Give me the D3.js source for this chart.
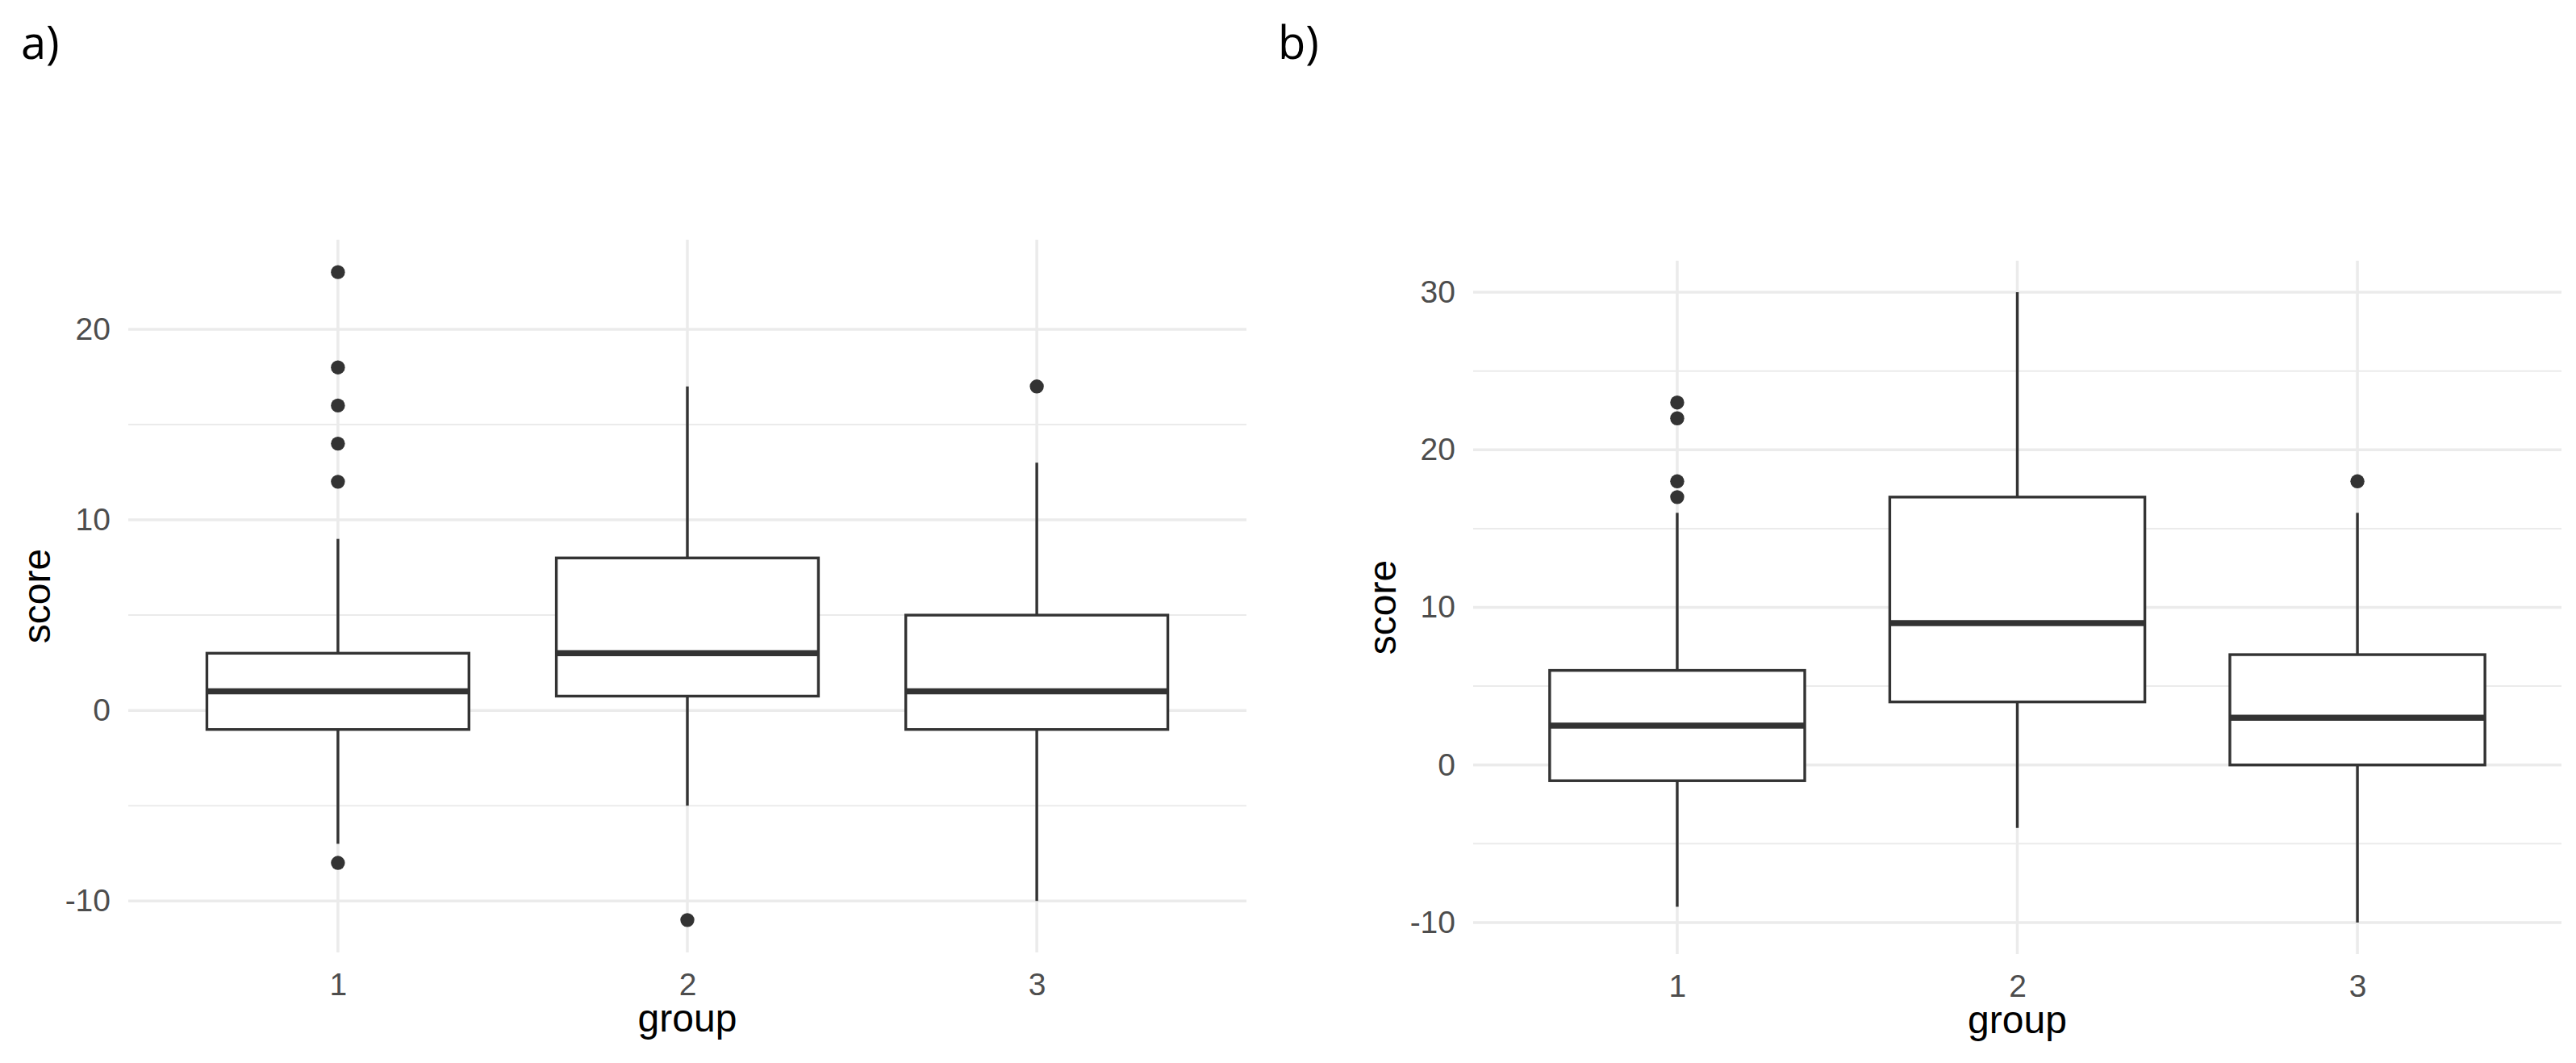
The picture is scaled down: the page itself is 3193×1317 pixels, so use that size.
<!DOCTYPE html>
<html>
<head>
<meta charset="utf-8">
<script src="https://cdn.jsdelivr.net/npm/d3@7"></script>
<style>
  html, body { margin: 0; padding: 0; background: #fff; }
  svg { display: block; font-family: Arial, 'Liberation Sans', sans-serif; }
</style>
</head>
<body>
<svg id="chart" width="3193" height="1317"></svg>
<script>
const groups = ['1', '2', '3'];

// panel a)
const aLow = [-7, -5, -10];
const aQ1 = [-1, 0.75, -1];
const aMedian = [1, 3, 1];
const aQ3 = [3, 8, 5];
const aHigh = [9, 17, 13];
const aOutliers = [[23, 18, 16, 14, 12, -8], [-11], [17]];
const aTicks = [-10, 0, 10, 20];
const aMinor = [-5, 5, 15];

// panel b)
const bLow = [-9, -4, -10];
const bQ1 = [-1, 4, 0];
const bMedian = [2.5, 9, 3];
const bQ3 = [6, 17, 7];
const bHigh = [16, 30, 16];
const bOutliers = [[23, 22, 18, 17], [], [18]];
const bTicks = [-10, 0, 10, 20, 30];
const bMinor = [-5, 5, 15, 25];

const GRID = '#ebebeb', INK = '#333333';

const svg = d3.select('#chart');
svg.append('rect').attr('width', 3193).attr('height', 1317).attr('fill', '#fff');

function drawPanel(cfg) {
  const g = svg.append('g');

  const x = d3.scalePoint().domain(groups).range([cfg.left, cfg.right]).padding(0.6);
  // ggplot-style 5% expansion of the data range
  const [lo, hi] = d3.extent([...cfg.low, ...cfg.high, ...cfg.outliers.flat()]);
  const pad = (hi - lo) * 0.05;
  const y = d3.scaleLinear().domain([lo - pad, hi + pad]).range([cfg.bottom, cfg.top]);
  const boxW = x.step() * 0.75;

  /* ── grid ── */
  g.append('g').selectAll('line').data(cfg.minor).join('line')
    .attr('x1', cfg.left).attr('x2', cfg.right)
    .attr('y1', d => y(d)).attr('y2', d => y(d))
    .attr('stroke', GRID).attr('stroke-width', 2);

  g.append('g').selectAll('line').data(cfg.ticks).join('line')
    .attr('x1', cfg.left).attr('x2', cfg.right)
    .attr('y1', d => y(d)).attr('y2', d => y(d))
    .attr('stroke', GRID).attr('stroke-width', 3.5);

  g.append('g').selectAll('line').data(groups).join('line')
    .attr('x1', d => x(d)).attr('x2', d => x(d))
    .attr('y1', cfg.top).attr('y2', cfg.bottom)
    .attr('stroke', GRID).attr('stroke-width', 3.5);

  /* ── axes (labels only) ── */
  g.append('g')
    .attr('transform', `translate(${cfg.left},0)`)
    .call(d3.axisLeft(y).tickValues(cfg.ticks).tickSize(0).tickPadding(22).tickFormat(d => String(d)))
    .call(a => a.select('.domain').remove())
    .attr('font-size', 39).attr('font-family', null).attr('color', '#4d4d4d');

  g.append('g')
    .attr('transform', `translate(0,${cfg.bottom})`)
    .call(d3.axisBottom(x).tickSize(0).tickPadding(25))
    .call(a => a.select('.domain').remove())
    .attr('font-size', 39).attr('font-family', null).attr('color', '#4d4d4d');

  /* ── boxes ── */
  const boxes = g.append('g').selectAll('g').data(groups).join('g');

  boxes.append('line')
    .attr('x1', d => x(d)).attr('x2', d => x(d))
    .attr('y1', (d, i) => y(cfg.high[i])).attr('y2', (d, i) => y(cfg.q3[i]))
    .attr('stroke', INK).attr('stroke-width', 3.4);

  boxes.append('line')
    .attr('x1', d => x(d)).attr('x2', d => x(d))
    .attr('y1', (d, i) => y(cfg.q1[i])).attr('y2', (d, i) => y(cfg.low[i]))
    .attr('stroke', INK).attr('stroke-width', 3.4);

  boxes.append('rect')
    .attr('x', d => x(d) - boxW / 2).attr('width', boxW)
    .attr('y', (d, i) => y(cfg.q3[i]))
    .attr('height', (d, i) => y(cfg.q1[i]) - y(cfg.q3[i]))
    .attr('fill', '#fff').attr('stroke', INK).attr('stroke-width', 3.4);

  boxes.append('line')
    .attr('x1', d => x(d) - boxW / 2).attr('x2', d => x(d) + boxW / 2)
    .attr('y1', (d, i) => y(cfg.median[i])).attr('y2', (d, i) => y(cfg.median[i]))
    .attr('stroke', INK).attr('stroke-width', 7.5);

  const pts = groups.flatMap((grp, i) => cfg.outliers[i].map(v => ({ grp, v })));
  g.append('g').selectAll('circle').data(pts).join('circle')
    .attr('cx', d => x(d.grp)).attr('cy', d => y(d.v)).attr('r', 8.7)
    .attr('fill', INK);

  /* ── titles ── */
  g.append('text')
    .attr('transform', `translate(${cfg.scoreX},${(cfg.top + cfg.bottom) / 2}) rotate(-90)`)
    .attr('text-anchor', 'middle').attr('font-size', 48).attr('fill', '#000')
    .text('score');

  g.append('text')
    .attr('x', (cfg.left + cfg.right) / 2).attr('y', cfg.bottom + 98)
    .attr('text-anchor', 'middle').attr('font-size', 48).attr('fill', '#000')
    .text('group');

  g.append('text')
    .attr('x', cfg.tagX).attr('y', 73)
    .attr('font-family', "'Open Sans', sans-serif").attr('font-size', 56).attr('fill', '#000')
    .text(cfg.tag);
}

drawPanel({
  left: 159, right: 1545, top: 297, bottom: 1180,
  low: aLow, q1: aQ1, median: aMedian, q3: aQ3, high: aHigh,
  outliers: aOutliers, ticks: aTicks, minor: aMinor,
  scoreX: 62, tag: 'a)', tagX: 26
});

drawPanel({
  left: 1826, right: 3175, top: 323, bottom: 1182,
  low: bLow, q1: bQ1, median: bMedian, q3: bQ3, high: bHigh,
  outliers: bOutliers, ticks: bTicks, minor: bMinor,
  scoreX: 1730, tag: 'b)', tagX: 1584
});
</script>
</body>
</html>
